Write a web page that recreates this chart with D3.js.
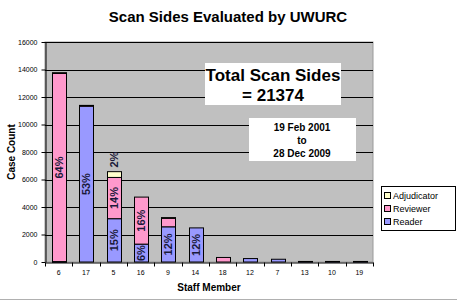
<!DOCTYPE html>
<html>
<head>
<meta charset="utf-8">
<script src="https://cdn.jsdelivr.net/npm/d3@7"></script>
<style>
  html, body { margin: 0; padding: 0; background: #fff; }
  svg { display: block; font-family: "Liberation Sans", Arial, sans-serif; }
</style>
</head>
<body>
<svg id="chart" width="457" height="301"></svg>
<script>
// Staff members along the x axis
const staff = ["6", "17", "5", "16", "9", "14", "18", "12", "7", "13", "10", "19"];
// Scan sides per role, one value per staff member
const reader      = [30, 11330, 3150, 1300, 2560, 2480, 0, 250, 200, 40, 40, 40];
const reviewer    = [13680, 60, 3000, 3420, 620, 0, 330, 0, 0, 0, 0, 0];
const adjudicator = [60, 0, 420, 0, 50, 0, 0, 0, 0, 0, 0, 0];
// Share-of-total labels: [staff index, role, text, placed above the bar]
const pctLabels = [
  [0, "reviewer", "64%", false],
  [1, "reader", "53%", false],
  [2, "reader", "15%", false],
  [2, "reviewer", "14%", false],
  [2, "adjudicator", "2%", true],
  [3, "reader", "6%", false],
  [3, "reviewer", "16%", false],
  [4, "reader", "12%", false],
  [5, "reader", "12%", false]
];
const yTicks = [0, 2000, 4000, 6000, 8000, 10000, 12000, 14000, 16000];
const roles = ["reader", "reviewer", "adjudicator"];
const roleNames = { reader: "Reader", reviewer: "Reviewer", adjudicator: "Adjudicator" };
const roleColors = { reader: "#9999FF", reviewer: "#FF99CC", adjudicator: "#FFFFCC" };
const totalScanSides = 21374;

const rows = staff.map((s, i) => ({ staff: s, reader: reader[i], reviewer: reviewer[i], adjudicator: adjudicator[i] }));
const stacked = d3.stack().keys(roles)(rows);

const svg = d3.select("#chart");
const plot = { left: 45, right: 373, top: 42, bottom: 262 };

const x = d3.scaleBand().domain(staff).range([plot.left, plot.right]).paddingInner(0.5).paddingOuter(0.25);
const xCat = d3.scaleBand().domain(staff).range([plot.left, plot.right]);
const y = d3.scaleLinear().domain([0, 16000]).range([plot.bottom, plot.top]);

// Title
svg.append("text")
  .attr("x", 228).attr("y", 22)
  .attr("text-anchor", "middle")
  .attr("font-size", 15).attr("font-weight", "bold")
  .text("Scan Sides Evaluated by UWURC");

// Plot background
svg.append("rect")
  .attr("x", plot.left).attr("y", plot.top)
  .attr("width", plot.right - plot.left).attr("height", plot.bottom - plot.top)
  .attr("fill", "#C0C0C0").attr("stroke", "#9a9a9a").attr("stroke-width", 1);

// Gridlines
svg.append("g").selectAll("line")
  .data(yTicks.filter(t => t > 0))
  .join("line")
  .attr("x1", plot.left).attr("x2", plot.right)
  .attr("y1", d => Math.round(y(d)) + 0.5).attr("y2", d => Math.round(y(d)) + 0.5)
  .attr("stroke", "#000").attr("stroke-width", 1);

// Y axis
const yAxis = svg.append("g")
  .attr("transform", `translate(${plot.left + 0.5},0)`)
  .call(d3.axisLeft(y).tickValues(yTicks).tickSize(4).tickSizeOuter(0).tickPadding(4).tickFormat(d3.format("d")));
yAxis.select(".domain").attr("stroke", "#000");
yAxis.selectAll("text").attr("font-size", 7).attr("font-family", "Liberation Sans, Arial, sans-serif");

// X axis with ticks between categories
const xAxis = svg.append("g")
  .attr("transform", `translate(0,${plot.bottom + 0.5})`)
  .call(d3.axisBottom(xCat).tickSize(0).tickPadding(8));
xAxis.select(".domain").attr("stroke", "#000");
xAxis.selectAll("text").attr("font-size", 7).attr("font-family", "Liberation Sans, Arial, sans-serif");
xAxis.selectAll(".between")
  .data(d3.range(staff.length + 1))
  .join("line")
  .attr("class", "between")
  .attr("x1", i => Math.round(plot.left + i * xCat.step()) + 0.5)
  .attr("x2", i => Math.round(plot.left + i * xCat.step()) + 0.5)
  .attr("y1", 0).attr("y2", 4)
  .attr("stroke", "#000");

// Stacked bars
svg.append("g").selectAll("g")
  .data(stacked)
  .join("g")
  .attr("fill", d => roleColors[d.key])
  .selectAll("rect")
  .data(d => d.filter(seg => seg[1] > seg[0]))
  .join("rect")
  .attr("x", d => Math.round(x(d.data.staff)) + 0.5)
  .attr("width", Math.round(x.bandwidth()))
  .attr("y", d => y(d[1]))
  .attr("height", d => Math.max(0.8, y(d[0]) - y(d[1])))
  .attr("stroke", "#000").attr("stroke-width", 1);

// Percentage labels, rotated, centred in their segment (or above a thin top segment)
const layerOf = Object.fromEntries(stacked.map(l => [l.key, l]));
svg.append("g").selectAll("text")
  .data(pctLabels)
  .join("text")
  .attr("transform", ([i, role, t, above]) => {
    const seg = layerOf[role][i];
    const cx = x(staff[i]) + x.bandwidth() / 2 + 0.5;
    const cy = above ? y(seg[1]) - 12 : (y(seg[0]) + y(seg[1])) / 2;
    return `translate(${cx},${cy}) rotate(-90)`;
  })
  .attr("text-anchor", "middle").attr("dy", "0.35em")
  .attr("font-size", 11).attr("font-weight", "bold")
  .attr("fill", "#1a1a3a")
  .text(d => d[2]);

// Axis titles
svg.append("text")
  .attr("transform", `translate(15,${(plot.top + plot.bottom) / 2}) rotate(-90)`)
  .attr("text-anchor", "middle")
  .attr("font-size", 10).attr("font-weight", "bold")
  .text("Case Count");
svg.append("text")
  .attr("x", (plot.left + plot.right) / 2).attr("y", 291)
  .attr("text-anchor", "middle")
  .attr("font-size", 10).attr("font-weight", "bold")
  .text("Staff Member");

// Total annotation box
const totalBox = svg.append("g");
totalBox.append("rect").attr("x", 205).attr("y", 63).attr("width", 136).attr("height", 42).attr("fill", "#fff");
totalBox.append("text").attr("x", 273).attr("y", 81)
  .attr("text-anchor", "middle").attr("font-size", 17).attr("font-weight", "bold")
  .text("Total Scan Sides");
totalBox.append("text").attr("x", 273).attr("y", 101)
  .attr("text-anchor", "middle").attr("font-size", 17).attr("font-weight", "bold")
  .text("= " + totalScanSides);

// Date range box
const dateBox = svg.append("g");
dateBox.append("rect").attr("x", 249).attr("y", 118).attr("width", 107).attr("height", 43).attr("fill", "#fff");
["19 Feb 2001", "to", "28 Dec 2009"].forEach((t, k) => {
  dateBox.append("text").attr("x", 302).attr("y", 131 + k * 13)
    .attr("text-anchor", "middle").attr("font-size", 10).attr("font-weight", "bold")
    .text(t);
});

// Legend
const legend = svg.append("g").attr("transform", "translate(381,186)");
legend.append("rect").attr("x", 0.5).attr("y", 0.5).attr("width", 74).attr("height", 44)
  .attr("fill", "#fff").attr("stroke", "#000");
const legendOrder = ["adjudicator", "reviewer", "reader"];
legendOrder.forEach((role, k) => {
  legend.append("rect").attr("x", 3.5).attr("y", 6.5 + k * 13).attr("width", 6).attr("height", 6)
    .attr("fill", roleColors[role]).attr("stroke", "#000");
  legend.append("text").attr("x", 12).attr("y", 13 + k * 13)
    .attr("font-size", 9).text(roleNames[role]);
});

// Thin frame line along the bottom edge
svg.append("line").attr("x1", 0).attr("x2", 457).attr("y1", 299.5).attr("y2", 299.5)
  .attr("stroke", "#b0b0b0");
</script>
</body>
</html>
